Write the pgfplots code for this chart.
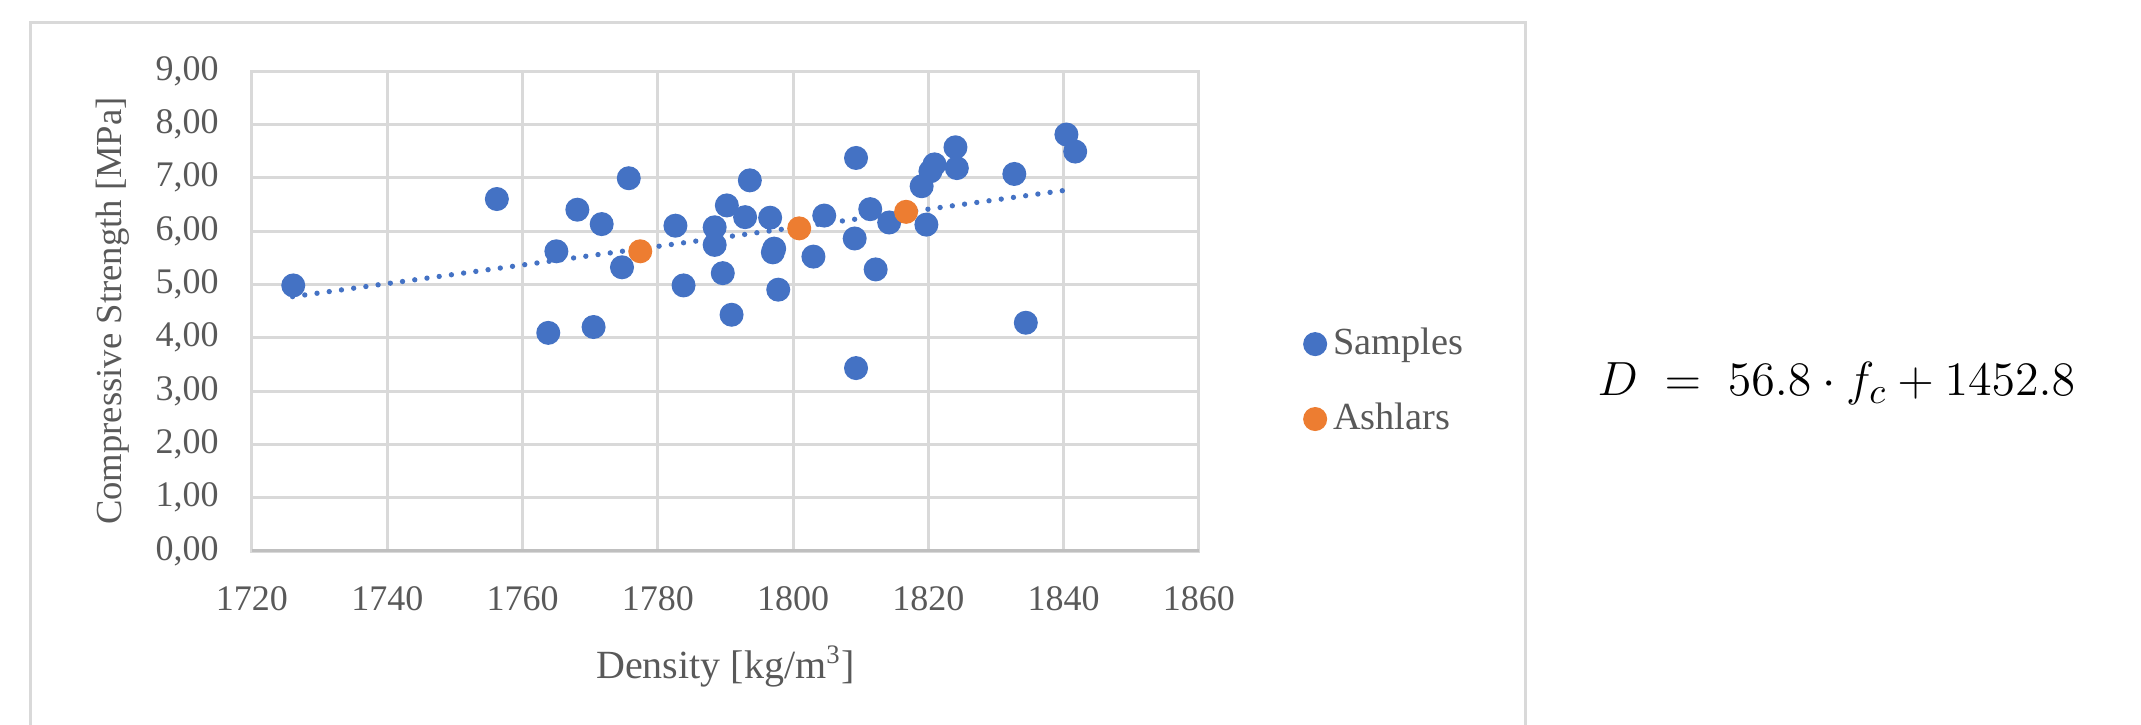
\documentclass[border=0pt]{standalone}
\usepackage{pgfplots}
\pgfplotsset{compat=1.18}
\usepackage{fontspec}
\setmainfont{Liberation Serif}

\definecolor{xlblue}{HTML}{4472C4}
\definecolor{xlorange}{HTML}{ED7D31}
\definecolor{xlgrid}{HTML}{D9D9D9}
\definecolor{xlaxis}{HTML}{BFBFBF}
\definecolor{xltext}{HTML}{595959}

\begin{document}
\begin{tikzpicture}
% frame and equation, in pixel units of the reference (1px = 0.3pt)
\begin{scope}[x=0.3pt,y=0.3pt]
  \path[use as bounding box] (0,0) rectangle (2141,725);
  \draw[xlgrid, line width=0.9pt] (30,0) -- (30,702) -- (1525,702) -- (1525,0);
  \node[anchor=base west, inner sep=0pt, font=\fontsize{15.2}{18}\selectfont]
    at (1597,329) {$D\;=\;56.8\cdot f_c+1452.8$};
\end{scope}

\begin{axis}[
    at={(75.6pt,52.2pt)}, anchor=south west,
    scale only axis, width=284.1pt, height=144pt,
    xmin=1720, xmax=1860, ymin=0, ymax=9,
    xtick={1720,1740,...,1860}, ytick={0,1,...,9},
    grid=major,
    major grid style={xlgrid, line width=0.9pt},
    axis line style={xlgrid, line width=0.9pt},
    major tick length=0pt,
    /pgf/number format/assume math mode=true,
    /pgf/number format/1000 sep={},
    ticklabel style={font=\fontsize{10.8}{13}\selectfont, text=xltext},
    xticklabel style={yshift=-7pt},
    yticklabel={\pgfmathprintnumber[fixed,fixed zerofill,precision=2,use comma]{\tick}},
    yticklabel style={xshift=-6.5pt},
    xlabel={Density [kg/m\textsuperscript{3}]},
    ylabel={Compressive Strength [MPa]},
    xlabel style={at={(axis description cs:0.5,-0.241)}, anchor=center,
                  font=\fontsize{12}{14}\selectfont, text=xltext},
    ylabel style={at={(axis description cs:-0.147,0.5)}, anchor=center,
                  font=\fontsize{11}{13}\selectfont, text=xltext},
    legend cell align=left,
    legend style={draw=none, fill=none, inner sep=0pt,
                  at={(axis description cs:1.11,0.353)}, anchor=west,
                  row sep=9pt, font=\fontsize{11.5}{13}\selectfont, text=xltext},
    legend image code/.code={\draw[mark repeat=2,mark phase=2,#1]
        plot coordinates {(0cm,0cm) (0.15cm,0cm) (0.3cm,0cm)};},
]
\addplot[only marks, mark=*, mark size=3.4pt, color=xlblue] coordinates {
  (1726.1,4.98) (1756.2,6.60) (1763.8,4.09) (1765.0,5.62) (1768.1,6.40)
  (1770.5,4.20) (1771.7,6.13) (1774.7,5.32) (1775.7,6.99) (1782.6,6.10)
  (1783.8,4.98) (1788.4,6.07) (1788.4,5.74) (1789.6,5.21) (1790.2,6.48)
  (1790.9,4.43) (1792.9,6.26) (1793.6,6.95) (1796.6,6.25) (1797.0,5.60)
  (1797.2,5.67) (1797.8,4.90) (1803.0,5.52) (1804.6,6.29) (1809.1,5.86)
  (1809.3,7.37) (1809.3,3.43) (1811.4,6.41) (1812.2,5.28) (1814.2,6.16)
  (1819.0,6.84) (1819.7,6.12) (1820.3,7.12) (1820.9,7.25) (1824.0,7.57)
  (1824.2,7.18) (1832.7,7.07) (1834.4,4.28) (1840.4,7.81) (1841.7,7.49)
};
\addlegendentry{Samples}
\addplot[only marks, mark=*, mark size=3.4pt, color=xlorange] coordinates {
  (1777.4,5.62) (1800.9,6.05) (1816.7,6.36)
};
\addlegendentry{Ashlars}
% linear trend line
\addplot[xlblue, line width=1.6pt, line cap=round, dash pattern=on 0pt off 3.7pt, forget plot]
  coordinates {(1726,4.77) (1840,6.76)};
\draw[xlaxis, line width=1.2pt] (rel axis cs:0,0) -- (rel axis cs:1,0);
\end{axis}
\end{tikzpicture}
\end{document}
